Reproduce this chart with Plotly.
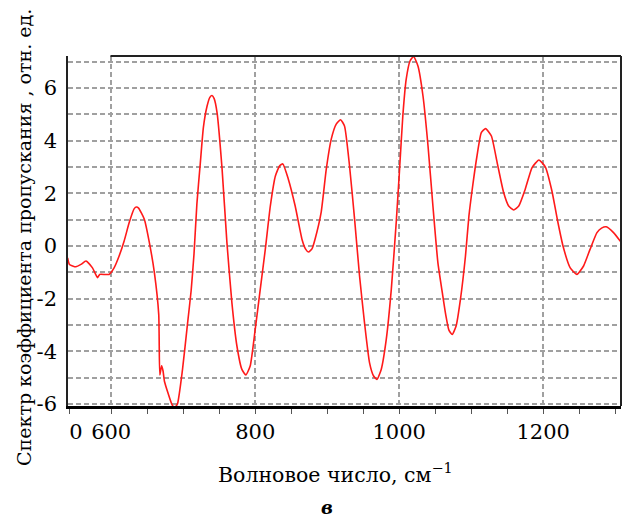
import plotly.graph_objects as go

# Wavenumber (cm^-1) and transmission spectrum values
wavenumber = [539.5, 542, 551, 558, 565, 574, 581, 584, 597, 604, 611, 618, 625, 632, 635, 638,
              646, 653, 660, 666, 667.5, 670, 672, 674, 679, 684, 688, 692, 699, 706, 711, 715,
              719, 723.6, 728, 733, 737, 740, 743, 747, 754, 760.7, 767.6, 774.6, 781.5, 787,
              793, 800, 807, 814, 821, 828, 834, 838.4, 846, 855.5, 865, 870, 874, 879, 883,
              891.7, 898.6, 905.6, 912.5, 918.5, 924, 931, 938, 944.9, 951.8, 958.8, 964.4, 969,
              975, 982, 989, 995.8, 1000.5, 1005, 1009.7, 1015, 1020, 1026, 1033, 1040, 1046.8,
              1053.7, 1060, 1064.5, 1069, 1073.6, 1079, 1085, 1092, 1096.8, 1102, 1108, 1114,
              1120, 1128, 1136, 1145, 1152, 1159, 1166, 1175, 1184.5, 1194, 1203, 1212, 1220,
              1228, 1237.5, 1246.8, 1256, 1265, 1274.6, 1281, 1287.5, 1297.6, 1308]
transmission = [-0.45, -0.70, -0.79, -0.70, -0.57, -0.83, -1.20, -1.08, -1.08, -0.83, -0.38, 0.19,
                0.89, 1.42, 1.48, 1.44, 1.02, 0.13, -1.02, -2.6, -4.9, -4.55, -4.75, -5.15, -5.6,
                -6.0, -6.15, -6.0, -4.7, -2.95, -1.7, -0.3, 1.6, 3.1, 4.5, 5.3, 5.65, 5.72, 5.6,
                5.07, 2.92, 0.13, -2.15, -3.8, -4.69, -4.9, -4.56, -3.17, -1.65, -0.13, 1.52,
                2.66, 3.05, 3.12, 2.54, 1.52, 0.25, -0.12, -0.23, -0.1, 0.25, 1.3, 2.9, 4.06,
                4.63, 4.8, 4.56, 3.04, 1.02, -1.14, -2.92, -4.44, -4.94, -5.07, -4.69, -3.55,
                -1.65, 0.89, 2.92, 4.94, 6.34, 7.03, 7.2, 6.84, 5.7, 3.8, 1.52, -0.63, -1.8,
                -2.6, -3.2, -3.36, -3.04, -2.03, -0.38, 1.14, 2.28, 3.42, 4.31, 4.46, 4.18, 3.17,
                2.03, 1.52, 1.37, 1.52, 2.16, 2.98, 3.27, 3.0, 2.1, 0.95, -0.06, -0.83, -1.08,
                -0.76, -0.13, 0.51, 0.68, 0.73, 0.51, 0.15]

x_major_ticks = [600, 800, 1000, 1200]
x_major_labels = ["600", "800", "1000", "1200"]
x_minor_ticks = [542, 650, 700, 750, 850, 900, 950, 1050, 1100, 1150, 1250, 1300]
x_extra_ticks = [551]
x_extra_labels = ["0"]

y_ticks = [-6, -5, -4, -3, -2, -1, 0, 1, 2, 3, 4, 5, 6, 7]
y_labels = ["-6", "", "-4", "", "-2", "", "0", "", "2", "", "4", "", "6", ""]

x_title = "Волновое число, см<sup>−1</sup>"
y_title = "Спектр коэффициента пропускания , отн. ед."
caption = "в"

FONT = "DejaVu Serif"
TICK_SIZE = 21
GRID = "#a0a0a0"

fig = go.Figure()
fig.add_trace(go.Scatter(
    x=wavenumber, y=transmission, mode="lines",
    line=dict(color="#ff1a1a", width=1.6, shape="spline", smoothing=0.5),
    showlegend=False, hoverinfo="skip",
))
# helper trace for the overlaid axis carrying the extra left tick label
fig.add_trace(go.Scatter(x=[None], y=[None], xaxis="x2", yaxis="y",
                         showlegend=False, hoverinfo="skip"))

XR = [540, 1308]
YR = [-6.08, 7.22]

fig.update_layout(
    width=622, height=519,
    margin=dict(l=68, r=1, t=56, b=113),
    paper_bgcolor="white", plot_bgcolor="white",
    font=dict(family=FONT, size=TICK_SIZE, color="black"),
    xaxis=dict(
        range=XR, tickmode="array", tickvals=x_major_ticks, ticktext=x_major_labels,
        ticks="outside", ticklen=5, tickwidth=1, tickcolor="#555",
        showgrid=True, gridcolor=GRID, gridwidth=1.5, griddash="5px,3px",
        minor=dict(tickmode="array", tickvals=x_minor_ticks, ticks="outside",
                   ticklen=5, tickwidth=1, tickcolor="#555", showgrid=False),
        showline=True, linecolor="black", linewidth=3,
        zeroline=False, ticklabelstandoff=0,
        tickfont=dict(family=FONT, size=TICK_SIZE, color="black"),
    ),
    xaxis2=dict(
        range=XR, overlaying="x", side="bottom", anchor="y",
        tickmode="array", tickvals=x_extra_ticks, ticktext=x_extra_labels,
        ticks="", showgrid=False, showline=False, zeroline=False,
        ticklabelstandoff=11,
        tickfont=dict(family=FONT, size=TICK_SIZE, color="black"),
    ),
    yaxis=dict(
        range=YR, tickmode="array", tickvals=y_ticks, ticktext=y_labels,
        ticks="", showgrid=True, gridcolor=GRID, gridwidth=1.5, griddash="5px,3px",
        showline=True, linecolor="#222", linewidth=1.5,
        zeroline=False, ticklabelstandoff=5,
        tickfont=dict(family=FONT, size=TICK_SIZE, color="black"),
    ),
    shapes=[
        dict(type="line", xref="x", yref="paper", x0=599, x1=XR[1], y0=1, y1=1,
             line=dict(color="#222", width=2)),
        dict(type="line", xref="paper", yref="paper", x0=1, x1=1, y0=0, y1=1,
             line=dict(color="#222", width=2)),
    ],
    annotations=[
        dict(text=x_title, xref="paper", yref="paper", x=0.4846, y=-0.194,
             xanchor="center", yanchor="middle", showarrow=False,
             font=dict(family=FONT, size=20.5, color="black")),
        dict(text=y_title, xref="paper", yref="paper", x=-0.0796, y=0.483,
             xanchor="center", yanchor="middle", textangle=-90, showarrow=False,
             font=dict(family=FONT, size=19, color="black")),
        dict(text="<b><i>" + caption + "</i></b>", xref="paper", yref="paper",
             x=0.468, y=-0.291, xanchor="center", yanchor="middle", showarrow=False,
             font=dict(family=FONT, size=18, color="black")),
    ],
)

fig.write_html("out.html")
